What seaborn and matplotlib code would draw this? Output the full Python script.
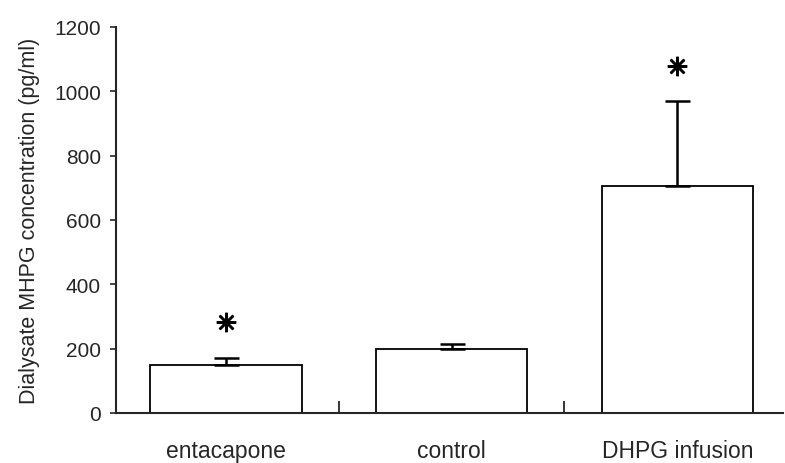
import matplotlib
matplotlib.use("Agg")
import matplotlib.pyplot as plt
import seaborn as sns
import pandas as pd
import numpy as np

categories = ["entacapone", "control", "DHPG infusion"]
means = [150, 200, 705]
errors = [20, 15, 265]
star_values = [284, None, 1078]
y_ticks = [0, 200, 400, 600, 800, 1000, 1200]

sns.set_style("ticks")
plt.rcParams['font.family'] = ['Liberation Sans', 'DejaVu Sans']

fig = plt.figure(figsize=(7.85, 4.64), dpi=100)
ax = fig.add_axes([0.148, 0.108, 0.85, 0.832])

df = pd.DataFrame({"group": categories, "value": means})
sns.barplot(data=df, x="group", y="value", ax=ax, width=0.67,
            color="white", edgecolor="black", linewidth=1.3, errorbar=None)
for p in ax.patches:
    p.set_facecolor("white")

xs = np.arange(len(categories))
ax.errorbar(xs, means, yerr=[np.zeros(len(means)), errors], fmt="none",
            ecolor="black", elinewidth=1.8, capsize=9, capthick=1.8)

for x, s in zip(xs, star_values):
    if s is not None:
        ax.plot([x], [s], marker=(8, 2, 0), markersize=14, markeredgewidth=1.8,
                color="black", linestyle="none")

ax.set_xlim(-0.486, 2.47)
ax.set_ylim(0, 1200)
ax.set_yticks(y_ticks)
ax.set_yticklabels([str(t) for t in y_ticks], fontsize=15)
ax.set_xticks(xs)
ax.set_xticklabels(categories, fontsize=16.5)
ax.tick_params(axis="x", length=0, pad=19)
ax.tick_params(axis="y", length=4, width=1.2, pad=7, direction="out")
ax.set_xticks([0.5, 1.5], minor=True)
ax.tick_params(axis="x", which="minor", direction="in", length=9, width=1.3)
ax.set_xlabel("")
ax.set_ylabel("Dialysate MHPG concentration (pg/ml)", fontsize=15.5, labelpad=10)
sns.despine(ax=ax)
for sp in ["left", "bottom"]:
    ax.spines[sp].set_linewidth(1.5)

fig.savefig("out.png", dpi=100)
